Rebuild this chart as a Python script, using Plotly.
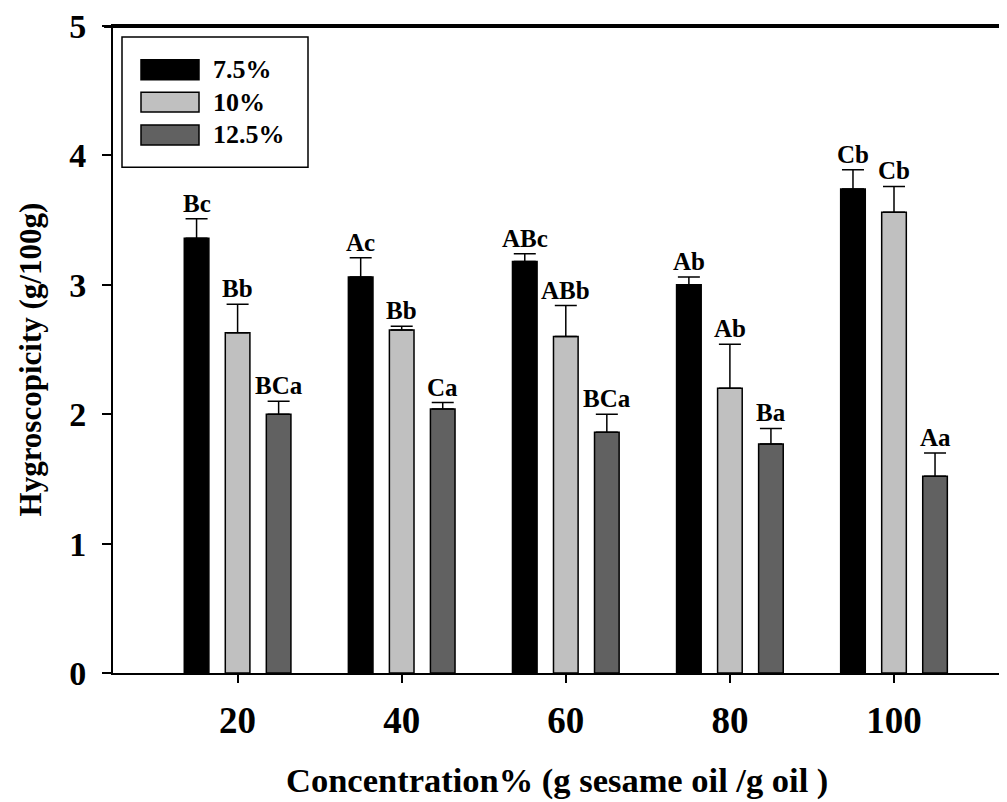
import plotly.graph_objects as go

# ---- data ----
concentrations = [20, 40, 60, 80, 100]
series_names = ["7.5%", "10%", "12.5%"]
vals_75 = [3.36, 3.06, 3.18, 3.00, 3.74]
vals_10 = [2.63, 2.65, 2.60, 2.20, 3.56]
vals_125 = [2.00, 2.04, 1.86, 1.77, 1.52]
err_75 = [0.15, 0.15, 0.06, 0.06, 0.15]
err_10 = [0.22, 0.03, 0.24, 0.34, 0.20]
err_125 = [0.10, 0.05, 0.14, 0.12, 0.18]
labels_75 = ["Bc", "Ac", "ABc", "Ab", "Cb"]
labels_10 = ["Bb", "Bb", "ABb", "Ab", "Cb"]
labels_125 = ["BCa", "Ca", "BCa", "Ba", "Aa"]

colors = ["#000000", "#c0c0c0", "#616161"]
FONT = "Liberation Serif, Times New Roman, serif"

# page body has an 8px margin; compensate so the plot lands where the reference has it
OFF = 8
W, H = 1007 - OFF, 802 - OFF
ML, MR, MT = 113 - OFF, 0, 23 - OFF
MB = H - MT - 650
PW, PH = W - ML - MR, H - MT - MB

def px_x(px):
    return (px - OFF - ML) / PW

def px_y(py):
    return (H - MB - (py - OFF)) / PH

series = [
    (vals_75, err_75, labels_75),
    (vals_10, err_10, labels_10),
    (vals_125, err_125, labels_125),
]
centers = [-5, 0, 5]
bar_w = 3.0

fig = go.Figure()
annotations = []
for i, (vals, errs, labs) in enumerate(series):
    fig.add_trace(go.Bar(
        x=concentrations, y=vals, name=series_names[i],
        width=bar_w, offset=centers[i] - bar_w / 2,
        marker=dict(color=colors[i], line=dict(color="black", width=1.5)),
        error_y=dict(type="data", array=errs, arrayminus=[0] * len(errs),
                     symmetric=False, color="black", thickness=1.5, width=11),
        showlegend=False,
    ))
    for c, v, e, t in zip(concentrations, vals, errs, labs):
        annotations.append(dict(
            x=c + centers[i], y=v + e, xref="x", yref="y", text=t,
            showarrow=False, yanchor="bottom", xanchor="center", yshift=0,
            font=dict(family=FONT, size=25, color="black", weight="bold"),
        ))

# top frame line (slightly inside the plot area so it is never clipped)
shapes = [dict(type="line", xref="paper", yref="paper", x0=-0.01, x1=1, y0=0.999, y1=0.999,
               line=dict(color="black", width=2.5), layer="above")]

# ---- manual legend ----
shapes.append(dict(type="rect", xref="paper", yref="paper",
                   x0=px_x(122), x1=px_x(308), y0=px_y(165), y1=px_y(34),
                   line=dict(color="black", width=1.5), fillcolor="white", layer="above"))
row_centers = [67, 99.5, 132.5]
for i, name in enumerate(series_names):
    cy = row_centers[i]
    shapes.append(dict(type="rect", xref="paper", yref="paper",
                       x0=px_x(141), x1=px_x(199), y0=px_y(cy + 10), y1=px_y(cy - 10),
                       line=dict(color="black", width=1.5), fillcolor=colors[i], layer="above"))
    annotations.append(dict(
        x=px_x(211), y=px_y(cy), xref="paper", yref="paper", text=name,
        showarrow=False, xanchor="left", yanchor="middle",
        font=dict(family=FONT, size=26, color="black", weight="bold"),
    ))

# axis titles
annotations.append(dict(
    x=px_x(30), y=px_y(358), xref="paper", yref="paper",
    text="Hygroscopicity (g/100g)", textangle=-90, showarrow=False,
    xanchor="center", yanchor="middle",
    font=dict(family=FONT, size=31, color="black", weight="bold"),
))
annotations.append(dict(
    x=px_x(557), y=px_y(781), xref="paper", yref="paper",
    text="Concentration% (g sesame oil /g oil )", showarrow=False,
    xanchor="center", yanchor="middle",
    font=dict(family=FONT, size=34.5, color="black", weight="bold"),
))

x_left = 20 - (237.6 - 113) / 8.205
x_right = 20 + (OFF + W - 237.6) / 8.205

fig.update_layout(
    width=W, height=H,
    margin=dict(l=ML, r=MR, t=MT, b=MB, pad=0),
    paper_bgcolor="white", plot_bgcolor="white",
    barmode="overlay",
    shapes=shapes, annotations=annotations,
    font=dict(family=FONT, color="black"),
)
fig.update_xaxes(
    range=[x_left, x_right], tickvals=concentrations, ticktext=[str(c) for c in concentrations],
    showgrid=False, zeroline=False, showline=True, linecolor="black", linewidth=2,
    mirror=True, ticks="outside", ticklen=8, tickwidth=1.5, tickcolor="black",
    tickfont=dict(family=FONT, size=37, color="black", weight="bold"),
    ticklabelstandoff=6, ticklabeloverflow="allow",
)
fig.update_yaxes(
    range=[0, 5], tickvals=[0, 1, 2, 3, 4, 5],
    showgrid=False, zeroline=False, showline=True, linecolor="black", linewidth=2,
    mirror=False, ticks="outside", ticklen=9, tickwidth=1.5, tickcolor="black",
    tickfont=dict(family=FONT, size=34, color="black", weight="bold"),
    ticklabelstandoff=9, ticklabeloverflow="allow",
)

fig.write_html("out.html")
